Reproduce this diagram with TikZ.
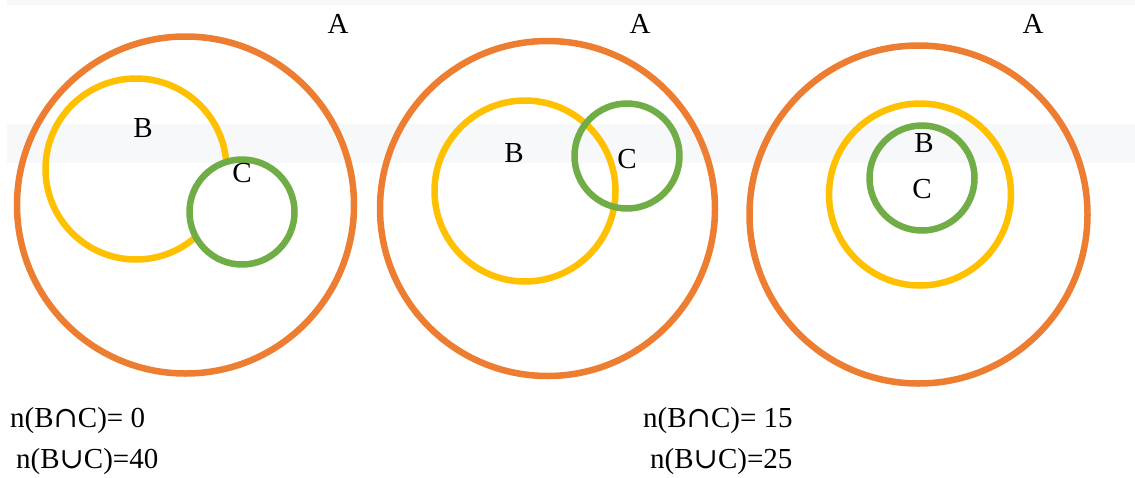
\documentclass[tikz,border=0pt]{standalone}
\usepackage{fontspec}
\setmainfont{Liberation Serif}
\newfontfamily\opfont{DejaVu Serif}
\newcommand{\capop}{{\opfont ∩}}
\newcommand{\cupop}{{\opfont ∪}}
\definecolor{setA}{HTML}{ED7D31}
\definecolor{setB}{HTML}{FFC000}
\definecolor{setC}{HTML}{70AD47}
\definecolor{band}{HTML}{F7F8FA}
\tikzset{
  ring/.style={circle, draw, line width=6.5pt, inner sep=0pt, outer sep=0pt, minimum size=#1},
  setname/.style={font=\fontsize{29}{30}\selectfont, inner sep=0pt},
  count/.style={font=\fontsize{29}{30}\selectfont, inner sep=0pt, anchor=west},
}
\begin{document}
\begin{tikzpicture}[x=1pt, y=-1pt]
\useasboundingbox (0,0) rectangle (1135,477);
\fill[white] (0,0) rectangle (1135,477);
% light background strips
\fill[band] (7,0) rectangle (1135,5);
\fill[band] (7,124) rectangle (1135,163);

% first diagram: B and C disjoint
\node[ring=337pt, setA] (A1) at (185.5,205) {};
\node[ring=181pt, setB] (B1) at (136,169) {};
\node[ring=105pt, setC, fill=white] (C1) at (242,212) {};
\node[setname] (lA1) at (338,24) {A};
\node[setname] (lB1) at (143,128) {B};
\node[setname] (lC1) at (242,173) {C};

% second diagram: B and C overlap
\node[ring=335pt, setA] (A2) at (547.5,208.5) {};
\node[ring=181pt, setB] (B2) at (525,191) {};
\node[ring=105pt, setC] (C2) at (627,156) {};
\node[setname] (lA2) at (640,24) {A};
\node[setname] (lB2) at (514,153) {B};
\node[setname] (lC2) at (627,159) {C};

% third diagram: C inside B
\node[ring=338pt, setA] (A3) at (918.5,214.5) {};
\node[ring=182pt, setB] (B3) at (920,194.5) {};
\node[ring=105pt, setC] (C3) at (922,178) {};
\node[setname] (lA3) at (1033,24) {A};
\node[setname] (lB3) at (924,143) {B};
\node[setname] (lC3) at (922,189) {C};

% counts
\node[count] (n1) at (10,421) {n(B\capop C)= 0};
\node[count] (u1) at (16,462) {n(B\cupop C)=40};
\node[count] (n2) at (643,421) {n(B\capop C)= 15};
\node[count] (u2) at (650,462) {n(B\cupop C)=25};
\end{tikzpicture}
\end{document}
